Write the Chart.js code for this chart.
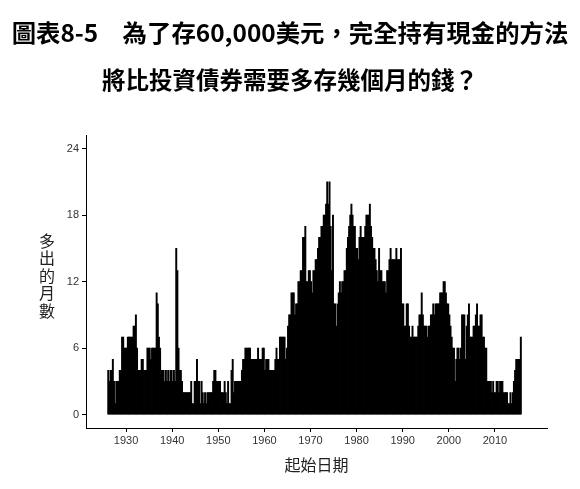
<!DOCTYPE html>
<html>
<head>
<meta charset="utf-8">
<script src="https://cdn.jsdelivr.net/npm/chart.js@4.4.1/dist/chart.umd.min.js"></script>
<style>
  html, body { margin: 0; padding: 0; background: #fff; }
  #wrap { width: 580px; height: 489px; position: relative; }
</style>
</head>
<body>
<div id="wrap"><canvas id="myChart"></canvas></div>
<script>
// quarterly values (extra months of saving), from 1926 Q1
var firstYear = 1926;
var q1920s = [4,3,4,4, 5,3,1,3, 3,3,4,4, 7,7,6,6];
var q1930s = [6,7,7,7, 7,7,8,8, 9,6,4,4, 4,5,5,4, 4,4,6,6,
              6,5,6,6, 6,6,11,10, 7,6,4,4, 4,3,4,3, 4,3,4,4];
var q1940s = [3,4,3,15, 13,6,4,4, 3,2,2,2, 2,2,2,2, 3,1,1,3,
              3,5,3,3, 1,3,2,1, 2,1,2,2, 2,2,2,3, 4,4,3,3];
var q1950s = [3,3,2,2, 2,3,2,1, 3,1,1,4, 5,2,3,3, 3,3,3,3,
              4,5,5,6, 6,6,6,6, 5,5,5,5, 5,5,6,5, 5,5,6,6];
var q1960s = [4,5,5,5, 4,4,4,4, 4,5,6,5, 5,7,7,7, 7,7,5,6,
              8,9,9,11, 11,11,9,10, 10,12,12,13, 13,16,16,17, 12,12,13,13];
var q1970s = [12,11,13,13, 14,14,15,16, 16,17,17,18, 18,19,21,19, 21,17,13,18,
              10,10,8,10, 11,12,11,12, 12,13,13,15, 16,17,18,19, 18,17,17,15];
var q1980s = [15,14,16,17, 16,16,16,17, 18,18,18,19, 17,16,15,15, 14,13,12,15,
              13,13,12,12, 12,11,13,13, 14,15,14,14, 14,14,15,14, 14,14,15,10];
var q1990s = [10,8,8,10, 10,8,7,7, 8,7,7,7, 7,8,9,9, 11,9,8,8,
              8,7,8,8, 9,9,10,9, 10,10,10,10, 11,11,11,12, 12,11,10,10];
var q2000s = [9,8,7,6, 6,3,5,6, 6,5,6,9, 9,9,5,8, 9,10,7,7,
              7,8,8,9, 10,8,8,9, 9,7,7,6, 6,3,3,3, 3,2,3,2];
var q2010s = [2,3,3,2, 3,3,3,2, 2,2,2,1, 1,2,1,2, 3,4,5,5, 5,5,7];

var decadeTicks = [1930, 1940, 1950, 1960, 1970, 1980, 1990, 2000, 2010];
var monthTicks = [0, 6, 12, 18, 24];

var titleLine1 = '圖表8-5　為了存60,000美元，完全持有現金的方法';
var titleLine2 = '將比投資債券需要多存幾個月的錢？';
var yTitle = '多出的月數';
var xTitle = '起始日期';

var extraMonths = [].concat(q1920s, q1930s, q1940s, q1950s, q1960s, q1970s, q1980s, q1990s, q2000s, q2010s);
var points = extraMonths.map(function (v, i) {
  return { x: firstYear + (i + 0.5) / 4, y: v };
});

// y title is written upright, one character under the other
var stackedYTitle = {
  id: 'stackedYTitle',
  afterDraw: function (chart) {
    var ctx = chart.ctx, area = chart.chartArea;
    var chars = yTitle.split('');
    var step = 17.5;
    var midY = (area.top + area.bottom) / 2 - 6;
    ctx.save();
    ctx.font = '16px "Noto Sans CJK TC"';
    ctx.fillStyle = '#222';
    ctx.textAlign = 'center';
    ctx.textBaseline = 'middle';
    chars.forEach(function (c, i) {
      ctx.fillText(c, area.left - 39, midY + (i - (chars.length - 1) / 2) * step);
    });
    ctx.restore();
  }
};

var tickFont = { family: '"Liberation Sans", Arial, sans-serif', size: 11 };
var cjk = '"Noto Sans CJK TC", "Noto Sans CJK SC", sans-serif';

var ctx = document.getElementById('myChart');
var myChart = new Chart(ctx, {
  type: 'bar',
  data: {
    datasets: [{
      label: yTitle,
      data: points,
      backgroundColor: '#000',
      borderWidth: 0,
      barPercentage: 1,
      categoryPercentage: 1,
      inflateAmount: 0.4
    }]
  },
  options: {
    responsive: true,
    maintainAspectRatio: false,
    animation: false,
    layout: { padding: 0 },
    plugins: {
      legend: { display: false },
      tooltip: { enabled: false },
      title: {
        display: true,
        text: titleLine1,
        color: '#000',
        font: { family: cjk, size: 24.4, weight: 'bold' },
        padding: { top: 18.4, bottom: 18.2 }
      },
      subtitle: {
        display: true,
        text: titleLine2,
        color: '#000',
        font: { family: cjk, size: 23.5, weight: 'bold' },
        padding: { top: 0, bottom: 41.4 }
      }
    },
    scales: {
      x: {
        type: 'linear',
        offset: false,
        min: 1921.3,
        max: 2021.3,
        afterBuildTicks: function (scale) {
          scale.ticks = decadeTicks.map(function (v) { return { value: v }; });
        },
        afterFit: function (scale) { scale.height = 61; },
        ticks: {
          autoSkip: false,
          maxRotation: 0,
          color: '#333',
          font: tickFont,
          padding: 2,
          callback: function (v) { return String(v); }
        },
        grid: { display: true, offset: false, drawOnChartArea: false, drawTicks: true, tickLength: 4, color: '#000', lineWidth: 1 },
        border: { display: true, color: '#000', width: 1 },
        title: {
          display: true,
          text: xTitle,
          color: '#222',
          font: { family: cjk, size: 16 },
          padding: { top: 0, bottom: 14 }
        }
      },
      y: {
        min: -1.2,
        max: 25.2,
        afterBuildTicks: function (scale) {
          scale.ticks = monthTicks.map(function (v) { return { value: v }; });
        },
        afterFit: function (scale) { scale.width = 86; },
        ticks: {
          color: '#333',
          font: tickFont,
          padding: 3
        },
        grid: { display: true, drawOnChartArea: false, drawTicks: true, tickLength: 4, color: '#000', lineWidth: 1 },
        border: { display: true, color: '#000', width: 1 }
      },
      // empty right-hand scale only keeps the right margin free
      yRight: {
        position: 'right',
        min: -1.2,
        max: 25.2,
        afterFit: function (scale) { scale.width = 33; },
        ticks: { display: false },
        grid: { display: false },
        border: { display: false }
      }
    }
  },
  plugins: [stackedYTitle]
});
</script>
</body>
</html>
